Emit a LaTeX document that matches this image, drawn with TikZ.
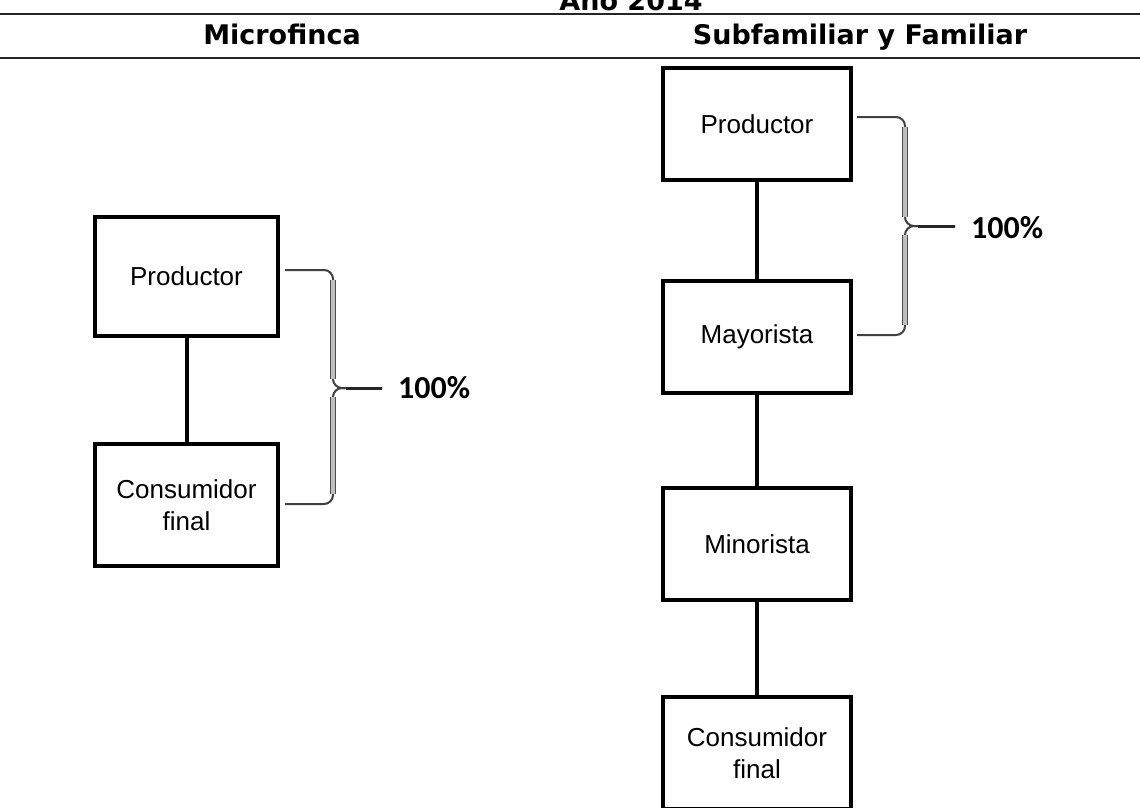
\documentclass[tikz,border=0pt]{standalone}
\usepackage{fontspec}
\setmainfont{Liberation Sans}
\newfontfamily\hdrfont{DejaVu Sans}
\newfontfamily\pctfont{Carlito}
\begin{document}
\begin{tikzpicture}[x=1pt,y=-1pt,
  box/.style={draw=black, line width=4pt, rectangle, inner sep=0pt,
    font=\fontsize{26}{32}\selectfont, align=center},
  link/.style={draw=black, line width=4pt},
  hdr/.style={font=\hdrfont\bfseries\fontsize{27}{32}\selectfont, anchor=base, inner sep=0pt},
  pct/.style={font=\pctfont\bfseries\fontsize{32}{36}\selectfont, anchor=west, inner sep=0pt},
  rule/.style={draw=black!85, line width=2pt},
  braceline/.style={draw=black!75, line width=2pt, rounded corners=9pt},
  bracebody/.style={draw=black!70, line width=6pt},
  bracefill/.style={draw=gray!50, line width=3.5pt}]
\useasboundingbox (0,0) rectangle (1140,808);
\clip (0,0) rectangle (1140,808);
\fill[white] (0,0) rectangle (1140,808);

% header
\node[hdr] (year) at (631,11) {Año 2014};
\coordinate (r1a) at (0,14); \coordinate (r1b) at (1140,14);
\coordinate (r2a) at (0,58); \coordinate (r2b) at (1140,58);
\draw[rule] (r1a) -- (r1b);
\draw[rule] (r2a) -- (r2b);
\node[hdr] (h1) at (282,45) {Microfinca};
\node[hdr] (h2) at (860,45) {Subfamiliar y Familiar};

% left column
\node[box, minimum width=183pt, minimum height=119pt] (lp) at (186.5,276.5) {Productor};
\node[box, minimum width=183pt, minimum height=122pt] (lc) at (186.5,505) {Consumidor\\final};
\draw[link] (lp.south) -- (lc.north);

% right column
\node[box, minimum width=188pt, minimum height=112pt] (rp) at (757,124) {Productor};
\node[box, minimum width=188pt, minimum height=112pt] (rm) at (757,336.5) {Mayorista};
\node[box, minimum width=188pt, minimum height=112pt] (rn) at (757,544) {Minorista};
\node[box, minimum width=188pt, minimum height=112pt] (rc) at (757,753) {Consumidor\\final};
\draw[link] (rp.south) -- (rm.north);
\draw[link] (rm.south) -- (rn.north);
\draw[link] (rn.south) -- (rc.north);

% left brace
\coordinate (lbt) at (285,270);
\coordinate (lbb) at (285,504);
\coordinate (lbtip) at (382,388);
\draw[braceline] (lbt) -- (333,270) -- (333,388) -- (lbtip);
\draw[braceline] (lbb) -- (333,504) -- (333,388) -- (lbtip);
\draw[bracebody] (333,280) -- (333,379);
\draw[bracebody] (333,397) -- (333,494);
\draw[bracefill] (333,280) -- (333,379);
\draw[bracefill] (333,397) -- (333,494);
\draw[draw=black!85, line width=3pt] (346,388) -- (lbtip);
\node[pct] (lpct) at (398,388) {100\%};

% right brace
\coordinate (rbt) at (857,117);
\coordinate (rbb) at (857,335);
\coordinate (rbtip) at (955,226);
\draw[braceline] (rbt) -- (905,117) -- (905,226) -- (rbtip);
\draw[braceline] (rbb) -- (905,335) -- (905,226) -- (rbtip);
\draw[bracebody] (905,127) -- (905,217);
\draw[bracebody] (905,235) -- (905,325);
\draw[bracefill] (905,127) -- (905,217);
\draw[bracefill] (905,235) -- (905,325);
\draw[draw=black!85, line width=3pt] (918,226) -- (rbtip);
\node[pct] (rpct) at (971,228) {100\%};
\end{tikzpicture}
\end{document}
